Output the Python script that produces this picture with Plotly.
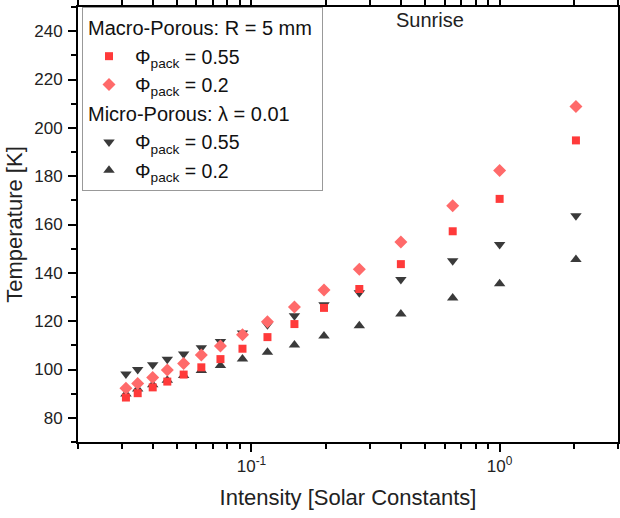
import plotly.graph_objects as go

# Incident intensity (solar constants)
intensity = [0.0312, 0.0348, 0.040, 0.0458, 0.0533, 0.0628, 0.075, 0.092,
             0.116, 0.149, 0.196, 0.272, 0.40, 0.647, 1.0, 2.03]

# Macro-porous model, R = 5 mm
macro_phi055 = [88.4, 90.2, 92.6, 95.0, 97.9, 100.9, 104.3, 108.6,
                113.4, 118.8, 125.5, 133.3, 143.6, 157.2, 170.6, 194.8]
macro_phi02 = [92.2, 94.2, 96.7, 99.8, 102.5, 106.0, 109.7, 114.4,
               119.8, 125.9, 132.9, 141.5, 152.8, 167.8, 182.3, 208.8]

# Micro-porous model, lambda = 0.01
micro_phi055 = [98.1, 100.0, 102.0, 104.2, 106.4, 109.0, 111.6, 115.1,
                118.5, 122.2, 126.8, 131.8, 137.2, 145.0, 151.7, 163.6]
micro_phi02 = [89.9, 91.9, 93.7, 95.6, 97.5, 99.6, 101.7, 104.3,
               107.1, 110.1, 113.9, 118.1, 123.0, 129.6, 135.5, 145.5]

x_major_vals = [0.1, 1]
x_major_text = ["10<sup>-1</sup>", "10<sup>0</sup>"]
x_minor_vals = [0.02, 0.03, 0.04, 0.05, 0.06, 0.07, 0.08, 0.09,
                0.2, 0.3, 0.4, 0.5, 0.6, 0.7, 0.8, 0.9, 2, 3]

FONT = "Liberation Sans, Arial, sans-serif"
phi_055 = "Φ<sub>pack</sub> = 0.55"
phi_02 = "Φ<sub>pack</sub> = 0.2"

fig = go.Figure()

fig.add_trace(go.Scatter(
    x=intensity, y=micro_phi055, mode="markers", name=phi_055,
    legendgroup="micro", legendgrouptitle_text="Micro-Porous: λ = 0.01",
    legendrank=3,
    marker=dict(symbol="triangle-down", size=10, color="#3a3a3a"),
))
fig.add_trace(go.Scatter(
    x=intensity, y=micro_phi02, mode="markers", name=phi_02,
    legendgroup="micro", legendrank=4,
    marker=dict(symbol="triangle-up", size=10, color="#3a3a3a"),
))
fig.add_trace(go.Scatter(
    x=intensity, y=macro_phi055, mode="markers", name=phi_055,
    legendgroup="macro", legendgrouptitle_text="Macro-Porous: R = 5 mm",
    legendrank=1,
    marker=dict(symbol="square", size=8, color="#ff3a3a"),
))
fig.add_trace(go.Scatter(
    x=intensity, y=macro_phi02, mode="markers", name=phi_02,
    legendgroup="macro", legendrank=2,
    marker=dict(symbol="diamond", size=10, color="#ff6a6a"),
))

axis_common = dict(
    showline=True, linecolor="black", linewidth=2, mirror="allticks",
    ticks="outside", ticklen=8, tickwidth=1.5, tickcolor="black",
    showgrid=False, zeroline=False, automargin=False,
    tickfont=dict(family=FONT, size=17, color="#222222"),
)

fig.update_xaxes(
    type="log", range=[-1.699, 0.477],
    tickmode="array", tickvals=x_major_vals, ticktext=x_major_text,
    minor=dict(tickmode="array", tickvals=x_minor_vals, ticks="outside",
               ticklen=5, tickwidth=1.5, tickcolor="black", showgrid=False),
    title=dict(text="Intensity [Solar Constants]",
               font=dict(family=FONT, size=22, color="#222222"), standoff=14),
    **axis_common,
)
fig.update_yaxes(
    range=[70, 250], dtick=20, tick0=0, ticklabelstandoff=2,
    minor=dict(dtick=10, ticks="outside", ticklen=5, tickwidth=1.5,
               tickcolor="black", showgrid=False),
    title=dict(text="Temperature [K]",
               font=dict(family=FONT, size=22, color="#222222"), standoff=6),
    **axis_common,
)

fig.add_annotation(
    text="Sunrise", xref="paper", yref="paper", x=0.652, y=0.970,
    xanchor="center", yanchor="middle", showarrow=False,
    font=dict(family=FONT, size=20, color="#222222"),
)

fig.update_layout(
    width=620, height=518,
    margin=dict(l=78, r=2, t=7, b=76, autoexpand=False),
    plot_bgcolor="white", paper_bgcolor="white",
    font=dict(family=FONT, size=19.5, color="#111111"),
    legend=dict(
        x=0.0074, y=1.0, xanchor="left", yanchor="top",
        bgcolor="white", bordercolor="#999999", borderwidth=1,
        traceorder="grouped", tracegroupgap=0, itemwidth=42,
        font=dict(family=FONT, size=19.5, color="#111111"),
        grouptitlefont=dict(family=FONT, size=20, color="#111111"),
    ),
    showlegend=True,
)

fig.write_html("out.html")
